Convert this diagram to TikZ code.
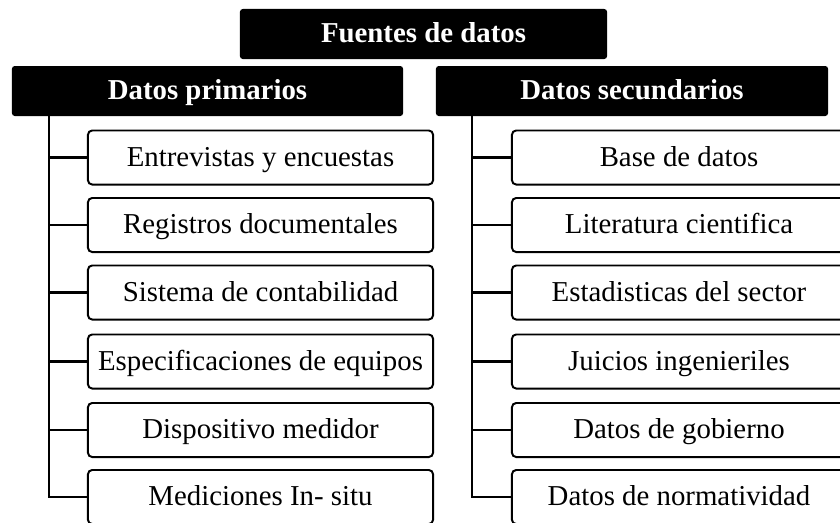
\documentclass[tikz,border=0pt]{standalone}
\usepackage{fontspec}
\setmainfont{Liberation Serif}
\usepackage{tikz}

\tikzset{
  head/.style={fill=black,text=white,font=\fontsize{20.5}{24}\selectfont\bfseries,rounded corners=2pt,minimum height=1.25cm,inner sep=0pt,text height=0.56cm,text depth=0.14cm},
  item/.style={draw,line width=1.4pt,fill=white,rounded corners=3pt,font=\fontsize{20.5}{24}\selectfont,minimum height=1.35cm,inner sep=0pt,text height=0.58cm,text depth=0.14cm},
  tree/.style={line width=1.5pt}
}

\begin{document}
\begin{tikzpicture}[x=0.025cm,y=-0.025cm]
    \clip (0,0) rectangle (840,522);
    \node[head,minimum width=9.175cm] (fuentes) at (423.5,34) {Fuentes de datos};
    \node[head,minimum width=9.775cm] (prim) at (207.5,91) {Datos primarios};
    \node[head,minimum width=9.8cm] (sec) at (632,91) {Datos secundarios};
    % primarios
    \node[item,minimum width=8.625cm] (p1) at (260.5,157.5) {Entrevistas y encuestas};
    \node[item,minimum width=8.625cm] (p2) at (260.5,225) {Registros documentales};
    \node[item,minimum width=8.625cm] (p3) at (260.5,292.5) {Sistema de contabilidad};
    \node[item,minimum width=8.625cm] (p4) at (260.5,361.5) {Especificaciones de equipos};
    \node[item,minimum width=8.625cm] (p5) at (260.5,430) {Dispositivo medidor};
    \node[item,minimum width=8.625cm] (p6) at (260.5,497) {Mediciones In- situ};
    % secundarios
    \node[item,minimum width=8.35cm] (s1) at (679,157.5) {Base de datos};
    \node[item,minimum width=8.35cm] (s2) at (679,225) {Literatura cientifica};
    \node[item,minimum width=8.35cm] (s3) at (679,292.5) {Estadisticas del sector};
    \node[item,minimum width=8.35cm] (s4) at (679,361.5) {Juicios ingenieriles};
    \node[item,minimum width=8.35cm] (s5) at (679,430) {Datos de gobierno};
    \node[item,minimum width=8.35cm] (s6) at (679,497) {Datos de normatividad};
    % troncos
    \coordinate (ptrunk) at ([xshift=0.925cm]prim.south west);
    \coordinate (strunk) at ([xshift=0.9cm]sec.south west);
    \draw[tree] (ptrunk) |- (p6.west);
    \draw[tree] (ptrunk |- p1.west) -- (p1.west);
    \draw[tree] (ptrunk |- p2.west) -- (p2.west);
    \draw[tree] (ptrunk |- p3.west) -- (p3.west);
    \draw[tree] (ptrunk |- p4.west) -- (p4.west);
    \draw[tree] (ptrunk |- p5.west) -- (p5.west);
    \draw[tree] (strunk) |- (s6.west);
    \draw[tree] (strunk |- s1.west) -- (s1.west);
    \draw[tree] (strunk |- s2.west) -- (s2.west);
    \draw[tree] (strunk |- s3.west) -- (s3.west);
    \draw[tree] (strunk |- s4.west) -- (s4.west);
    \draw[tree] (strunk |- s5.west) -- (s5.west);
\end{tikzpicture}
\end{document}
